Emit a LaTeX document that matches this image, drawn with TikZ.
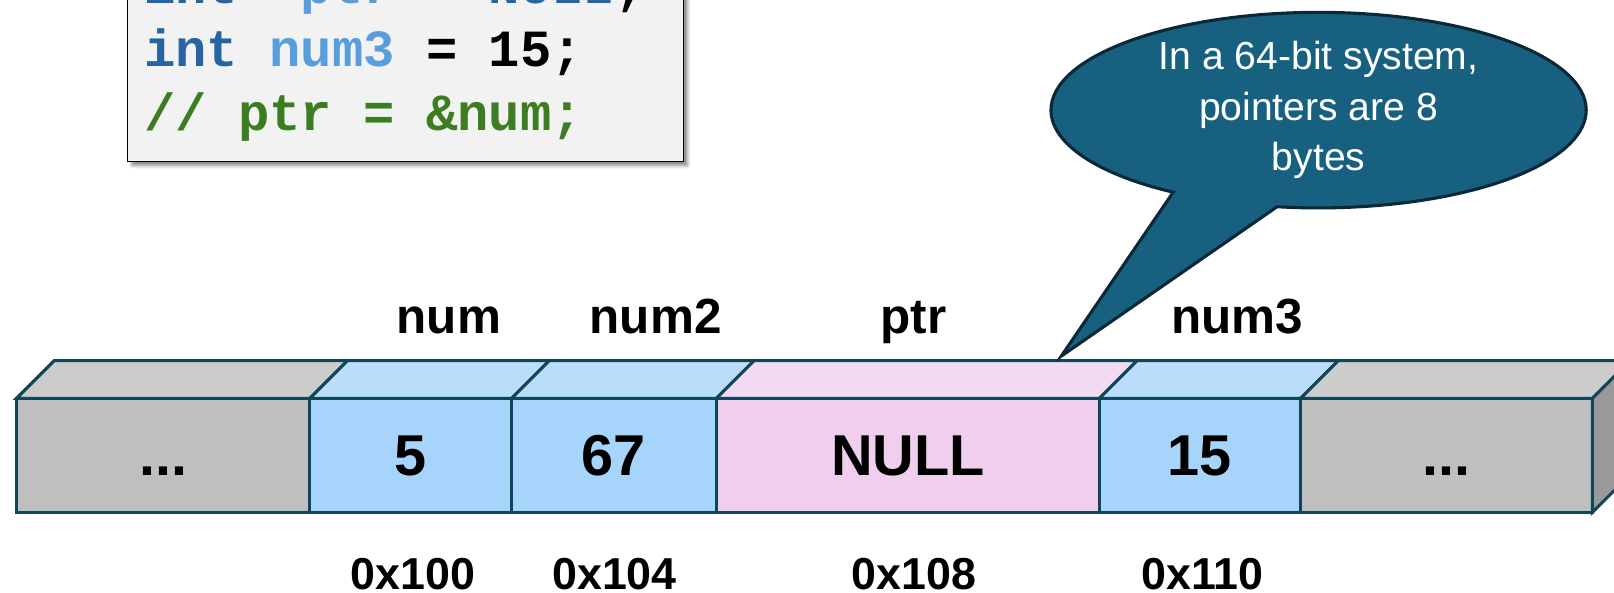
\documentclass[tikz,border=0pt]{standalone}
\usepackage{fontspec}
\setmainfont{Liberation Sans}
\setmonofont{Liberation Mono}
\usetikzlibrary{shapes.callouts,shadows.blur}

\definecolor{edge}{RGB}{17,69,90}
\definecolor{grayF}{RGB}{191,191,191}
\definecolor{grayT}{RGB}{204,204,204}
\definecolor{grayS}{RGB}{153,153,153}
\definecolor{blueF}{RGB}{166,212,251}
\definecolor{blueT}{RGB}{186,221,252}
\definecolor{pinkF}{RGB}{240,206,238}
\definecolor{pinkT}{RGB}{243,217,242}
\definecolor{notefill}{RGB}{23,96,128}
\definecolor{noteedge}{RGB}{10,40,55}
\definecolor{codebg}{RGB}{242,242,242}
\definecolor{kw}{RGB}{38,100,163}
\definecolor{var}{RGB}{88,157,220}
\definecolor{cmt}{RGB}{61,125,34}

\newcommand{\memdots}{...}

\begin{document}
\begin{tikzpicture}[x=1pt,y=1pt,
  cell/.style={draw=edge,line width=3pt,inner sep=0pt,outer sep=0pt,minimum height=110.7pt,anchor=south west,text height=40pt,text depth=0pt,font=\bfseries\fontsize{56}{60}\selectfont},
  codeline/.style={anchor=base west,inner sep=0pt,font=\ttfamily\bfseries\fontsize{50.7}{60}\selectfont},
  varname/.style={anchor=base,inner sep=0pt,font=\bfseries\fontsize{48}{50}\selectfont},
  addr/.style={anchor=base,inner sep=0pt,font=\bfseries\fontsize{43.5}{46}\selectfont}]
  \useasboundingbox (0,0) rectangle (1568,576);

  % source snippet (top lines run off the page)
  \filldraw[draw=black,fill=codebg,line width=1.5pt,blur shadow={shadow xshift=4pt,shadow yshift=-4pt,shadow blur radius=3pt,shadow opacity=45}] (124,419) rectangle (664,640);
  \node (code1) [codeline] at (140,572.7) {\color{kw}int \color{var}*ptr \color{black}= \color{kw}NULL\color{black};};
  \node (code2) [codeline] at (140,511.2) {\color{kw}int \color{var}num3 \color{black}= 15;};
  \node (code3) [codeline] at (140,449.7) {\color{cmt}// ptr = \&num;};

  % memory row: top face, then front face with its value
  \foreach \n/\xa/\xb/\fr/\tp/\val in {m0/16/301/grayF/grayT/\memdots,%
    m1/301/497/blueF/blueT/5,%
    m2/497/696/blueF/blueT/67,%
    m3/696/1068/pinkF/pinkT/NULL,%
    m4/1068/1263.5/blueF/blueT/15,%
    m5/1263.5/1547/grayF/grayT/\memdots} {
    \filldraw[fill=\tp,draw=edge,line width=3pt] (\xa,189) -- (\xb,189) -- (\xb+36.6,225.6) -- (\xa+36.6,225.6) -- cycle;
    \node (\n) [cell,fill=\fr,minimum width=\xb-\xa] at (\xa,78.3) {\val};
  }
  \filldraw[fill=grayS,draw=edge,line width=3pt] (m5.south east) -- ++(36.6,36.6) -- ++(0,110.7) -- (m5.north east) -- cycle;

  % variable names and addresses
  \foreach \n/\x/\t in {lnum/436/num, lnum2/637/num2, lptr/887.5/ptr, lnum3/1202/num3}
    \node (\n) [varname] at (\x,252) {\t};
  \foreach \n/\x/\t in {a100/401/0x100, a104/597/0x104, a108/888/0x108, a110/1168/0x110}
    \node (\n) [addr] at (\x,3) {\t};

  % size note
  \node (note) [ellipse callout,draw=noteedge,fill=notefill,line width=3pt,minimum width=520pt,minimum height=190pt,inner sep=0pt,
    callout absolute pointer={(1031,230)},callout pointer arc=24,text=white,align=center,font=\fontsize{38}{49}\selectfont]
    at (1281,469) {In a 64-bit system,\\pointers are 8\\bytes};
\end{tikzpicture}
\end{document}
